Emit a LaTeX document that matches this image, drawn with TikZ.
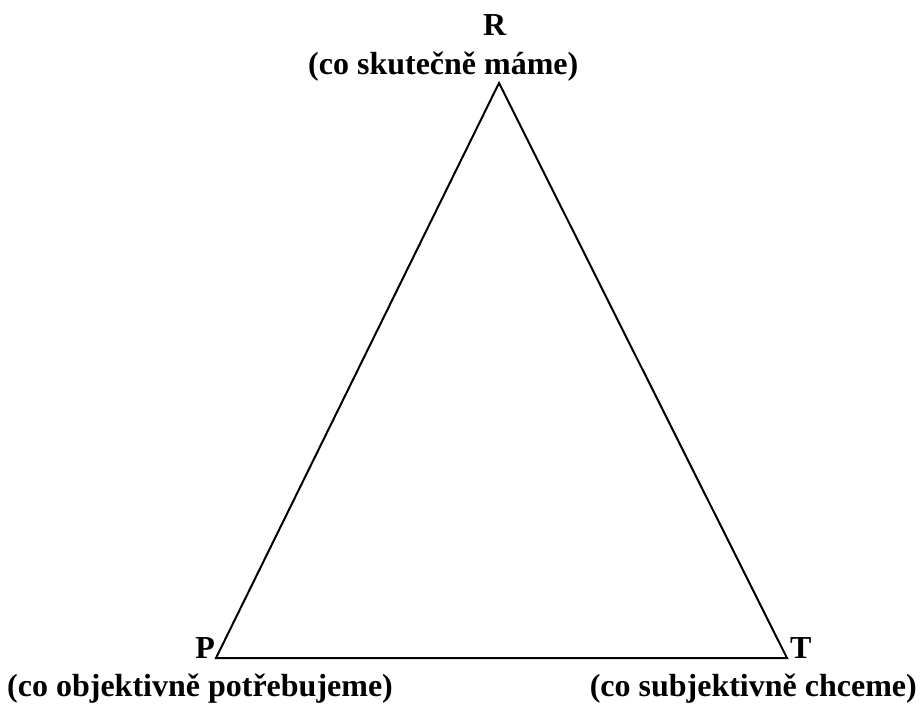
\documentclass[tikz,border=0pt]{standalone}
\usepackage{fontspec}
\setmainfont{Liberation Serif}
\usetikzlibrary{positioning}

\begin{document}
\begin{tikzpicture}[x=1pt, y=-1pt, every node/.style={font=\fontsize{32}{38}\selectfont\bfseries}]
\tikzset{
    side/.style={line width=2pt, line join=miter},
    labelnode/.style={inner sep=0pt}
}
\useasboundingbox (0,0) rectangle (920,704);

\coordinate (r) at (499,83);
\coordinate (p) at (216,658);
\coordinate (t) at (787,658);
\draw[side] (r) -- (t) -- (p) -- cycle;

\node[labelnode, anchor=base west] (rname) at (483,35) {R};
\node[labelnode, anchor=base west] (rtext) at (308,74) {(co skutečně máme)};
\node[labelnode, anchor=base east] (pname) at (215,658) {P};
\node[labelnode, anchor=base west] (ptext) at (7,696) {(co objektivně potřebujeme)};
\node[labelnode, anchor=base west] (tname) at (790,658) {T};
\node[labelnode, anchor=base east] (ttext) at (917,696) {(co subjektivně chceme)};

\end{tikzpicture}
\end{document}
